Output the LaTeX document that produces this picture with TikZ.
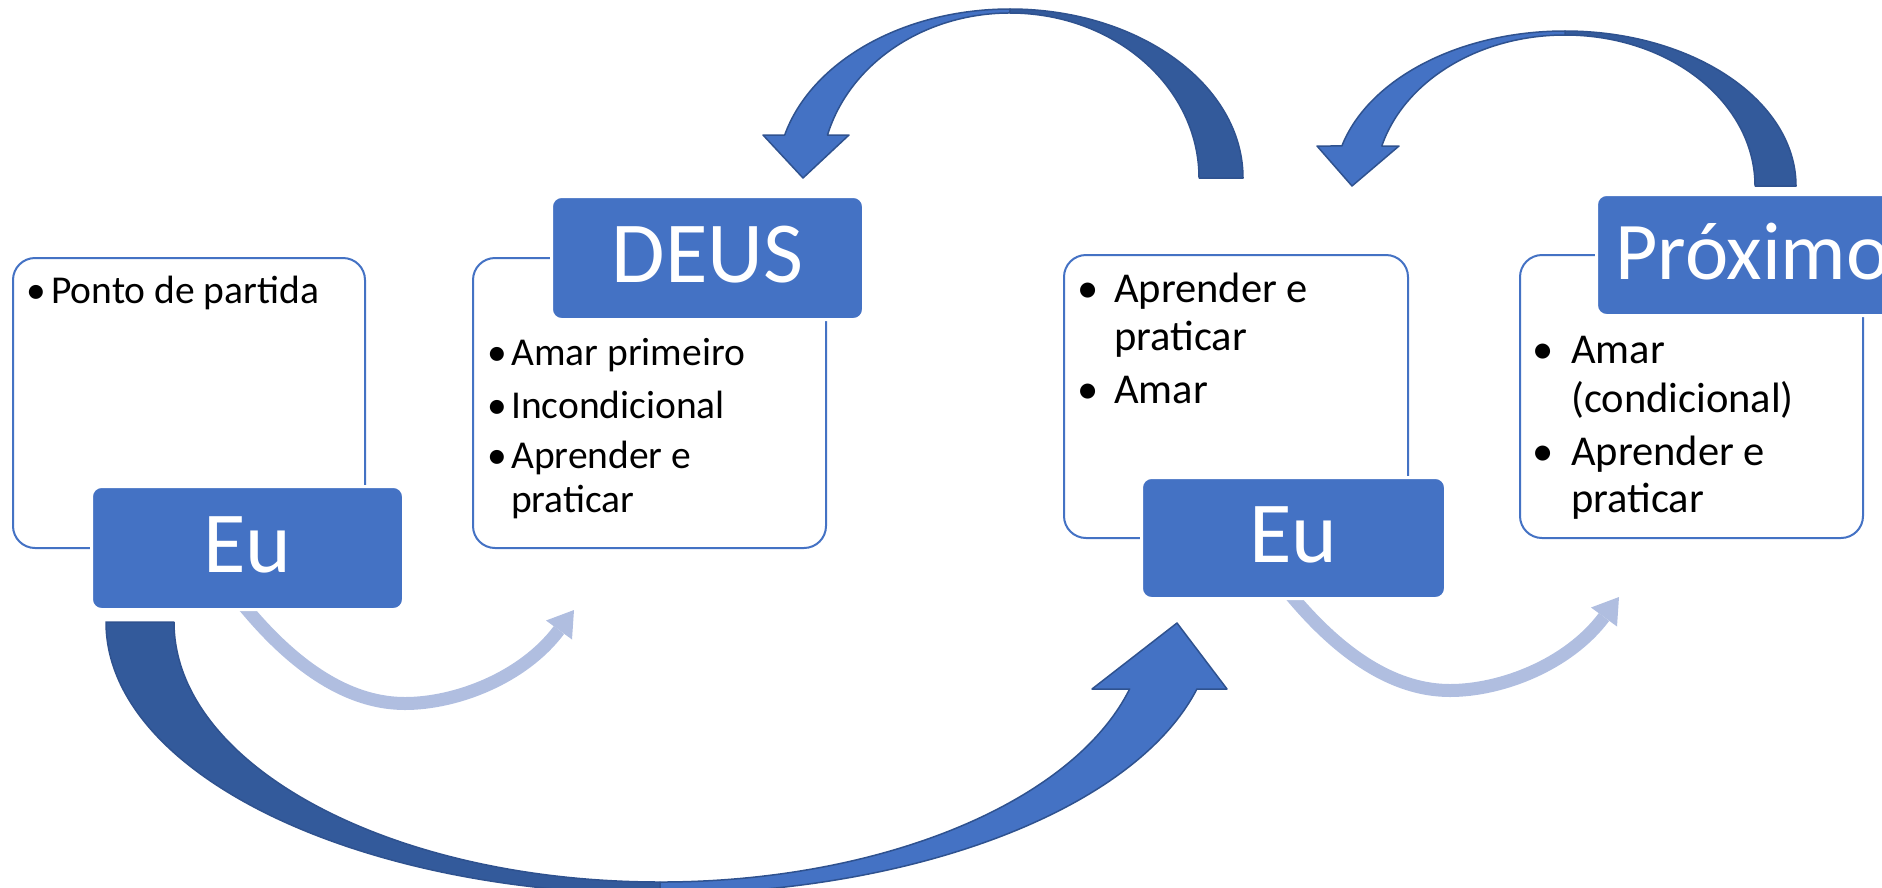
\documentclass[tikz,border=0pt]{standalone}
\usepackage{fontspec}
\setmainfont{Carlito}
\definecolor{accent}{HTML}{4472C4}
\definecolor{darkacc}{HTML}{335A9B}
\definecolor{edgeacc}{HTML}{2F528F}
\definecolor{lightacc}{HTML}{B0BEE0}
\begin{document}
\begin{tikzpicture}[x=1pt,y=-1pt,
  whitebox/.style={draw=accent, line width=2pt, fill=white, rounded corners=22pt, inner sep=0pt},
  bluebox/.style={draw=white, line width=3pt, fill=accent, rounded corners=10pt, inner sep=0pt,
    text=white, text height=48pt, text depth=0pt, font=\fontsize{87}{87}\selectfont},
  txtA/.style={anchor=base west, inner sep=0pt, font=\fontsize{39.5}{46}\selectfont},
  txtB/.style={anchor=base west, inner sep=0pt, font=\fontsize{42.5}{48}\selectfont},
  bulA/.style={anchor=base, inner sep=0pt, font=\fontsize{39.5}{46}\selectfont},
  bulB/.style={anchor=base, inner sep=0pt, font=\fontsize{42.5}{48}\selectfont},
  darkpart/.style={fill=darkacc, draw=edgeacc, line width=1.5pt, line join=round},
  lightpart/.style={fill=accent, draw=edgeacc, line width=1.5pt, line join=round},
  softarrow/.style={draw=lightacc, line width=13pt},
  softhead/.style={fill=lightacc},
]
\useasboundingbox (0,0) rectangle (1882,887);
\clip (0,0) rectangle (1882,887);

% white boxes
\node[whitebox, minimum width=352pt, minimum height=290pt] (box1) at (189,403) {};
\node[whitebox, minimum width=353pt, minimum height=290pt] (box2) at (649.5,403) {};
\node[whitebox, minimum width=344pt, minimum height=283pt] (box3) at (1236,396.5) {};
\node[whitebox, minimum width=343pt, minimum height=283pt] (box4) at (1691.5,396.5) {};

% texts box 1
\node[bulA] (b1a) at (36,303) {•};
\node[txtA] (t1a) at (51,303) {Ponto de partida};
% texts box 2
\node[bulA] (b2a) at (497,365) {•};
\node[txtA] (t2a) at (511,365) {Amar primeiro};
\node[bulA] (b2b) at (497,418) {•};
\node[txtA] (t2b) at (511,418) {Incondicional};
\node[bulA] (b2c) at (497,468) {•};
\node[txtA] (t2c) at (511,468) {Aprender e};
\node[txtA] (t2d) at (511,512) {praticar};
% texts box 3
\node[bulB] (b3a) at (1088,302) {•};
\node[txtB] (t3a) at (1114,302) {Aprender e};
\node[txtB] (t3b) at (1114,350) {praticar};
\node[bulB] (b3c) at (1088,403) {•};
\node[txtB] (t3c) at (1114,403) {Amar};
% texts box 4
\node[bulB] (b4a) at (1543,363) {•};
\node[txtB] (t4a) at (1571,363) {Amar};
\node[txtB] (t4b) at (1571,412) {(condicional)};
\node[bulB] (b4c) at (1543,465) {•};
\node[txtB] (t4c) at (1571,465) {Aprender e};
\node[txtB] (t4d) at (1571,512) {praticar};

% soft arrows (under the blue boxes)
\coordinate (s1a) at (244,606);
\coordinate (s1b) at (250,613);
\coordinate (s1m) at (405,703.5);
\coordinate (s1e) at (559,630);
\draw[softarrow] (s1a) -- (s1b) .. controls (301.7,673.3) and (353.3,703.5) .. (s1m)
  .. controls (456,703.5) and (523,678) .. (s1e);
\fill[softhead] (546,620.5) -- (574,610) -- (572,639.5) -- cycle;
\begin{scope}[shift={(1045,-13)}]
\coordinate (s2a) at (244,606);
\coordinate (s2b) at (250,613);
\coordinate (s2m) at (405,703.5);
\coordinate (s2e) at (559,630);
\draw[softarrow] (s2a) -- (s2b) .. controls (301.7,673.3) and (353.3,703.5) .. (s2m)
  .. controls (456,703.5) and (523,678) .. (s2e);
\fill[softhead] (546,620.5) -- (574,610) -- (572,639.5) -- cycle;
\end{scope}

% blue boxes
\node[bluebox, minimum width=312pt, minimum height=123pt] (eu1) at (247.5,548) {Eu};
\node[bluebox, minimum width=312pt, minimum height=123pt] (deus) at (707.5,258) {DEUS};
\node[bluebox, minimum width=304pt, minimum height=121pt] (eu2) at (1293.5,538) {Eu};
\node[bluebox, minimum width=312pt, minimum height=121pt, font=\fontsize{82}{82}\selectfont] (prox) at (1752.5,255) {Próximo};

% top arrow 1 (Eu -> DEUS)
\filldraw[darkpart] (1243,178) arc[start angle=0, end angle=-90, x radius=233, y radius=169]
  -- (1010,13) arc[start angle=-90, end angle=0, x radius=189, y radius=165] -- cycle;
\filldraw[lightpart] (1010,9) arc[start angle=-90, end angle=-165.26, x radius=233, y radius=169]
  -- (763,135) -- (803,178) -- (849,135) -- (827.5,135)
  arc[start angle=-164.9, end angle=-90, x radius=189, y radius=165] -- cycle;

% top arrow 2 (Proximo -> Eu)
\filldraw[darkpart] (1796,186) arc[start angle=0, end angle=-90, x radius=231, y radius=155]
  -- (1565,35) arc[start angle=-90, end angle=0, x radius=190, y radius=151] -- cycle;
\filldraw[lightpart] (1565,31) arc[start angle=-90, end angle=-165.04, x radius=231, y radius=155]
  -- (1317,146) -- (1352,186) -- (1399,146) -- (1381.8,146)
  arc[start angle=-164.64, end angle=-90, x radius=190, y radius=151] -- cycle;

% bottom arrow (Eu -> Eu)
\filldraw[darkpart] (106,622) arc[start angle=180, end angle=90, x radius=554, y radius=272]
  -- (660,882) arc[start angle=90, end angle=180, x radius=486, y radius=260] -- cycle;
\filldraw[lightpart] (660,894) arc[start angle=90, end angle=14.26, x radius=554, y radius=272]
  -- (1227,689) -- (1177,623) -- (1092,689) -- (1129.6,689)
  arc[start angle=14.93, end angle=90, x radius=486, y radius=260] -- cycle;
\end{tikzpicture}
\end{document}
